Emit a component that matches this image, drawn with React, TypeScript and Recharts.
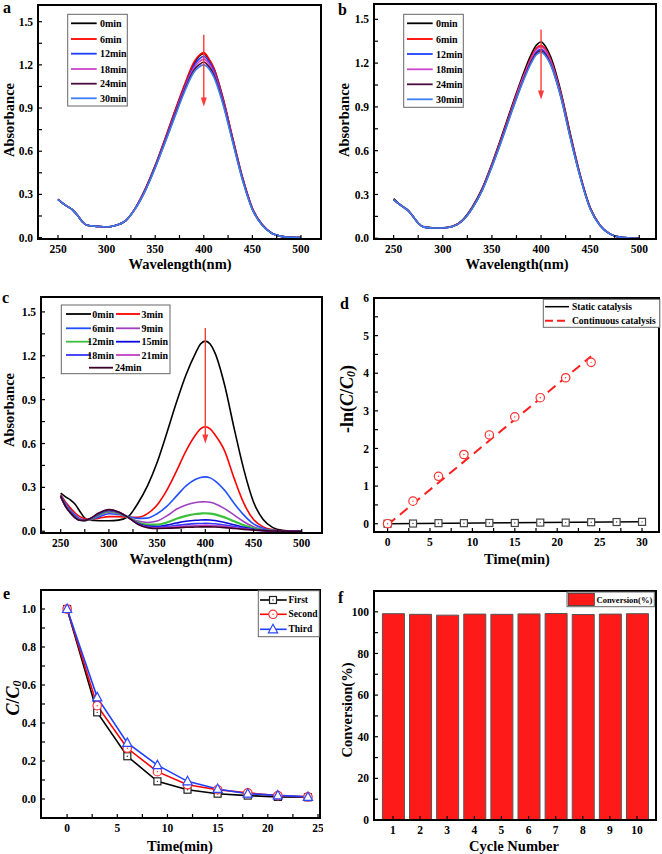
import React from 'react'
import {
  LineChart,
  Line,
  XAxis,
  YAxis,
  ReferenceLine,
  ScatterChart,
  Scatter,
  BarChart,
  Bar,
} from 'recharts'

const SERIF = "'Liberation Serif', 'Times New Roman', Times, serif"

// wavelength grid (nm) shared by the three UV-vis panels
const wavelengths = [250, 255, 260, 265, 270, 275, 280, 290, 300, 310, 320, 330, 340, 350, 360, 370, 380, 390, 395, 400, 405, 410, 420, 430, 440, 450, 460, 470, 480, 490, 500]

// panel a
const aLabels = ['0min', '6min', '12min', '18min', '24min', '30min']
const aColors = ['#000000', '#ff0000', '#1f3fff', '#cc44cc', '#4a0c3c', '#3a80f0']
const a0 = [0.265, 0.237, 0.215, 0.193, 0.155, 0.11, 0.085, 0.078, 0.073, 0.085, 0.12, 0.21, 0.34, 0.5, 0.68, 0.87, 1.05, 1.21, 1.26, 1.28, 1.24, 1.18, 0.96, 0.68, 0.41, 0.2, 0.09, 0.03, 0.008, 0.002, 0]
const a6 = [0.265, 0.237, 0.215, 0.193, 0.155, 0.11, 0.085, 0.078, 0.073, 0.085, 0.12, 0.21, 0.34, 0.5, 0.685, 0.875, 1.06, 1.22, 1.265, 1.285, 1.245, 1.185, 0.965, 0.685, 0.415, 0.205, 0.09, 0.03, 0.008, 0.002, 0]
const a12 = [0.265, 0.237, 0.215, 0.193, 0.155, 0.11, 0.085, 0.078, 0.073, 0.085, 0.12, 0.208, 0.335, 0.495, 0.675, 0.86, 1.04, 1.195, 1.24, 1.26, 1.225, 1.165, 0.95, 0.675, 0.41, 0.2, 0.09, 0.03, 0.008, 0.002, 0]
const a18 = [0.265, 0.237, 0.215, 0.193, 0.155, 0.11, 0.085, 0.078, 0.073, 0.085, 0.12, 0.207, 0.332, 0.49, 0.668, 0.85, 1.03, 1.18, 1.22, 1.24, 1.21, 1.15, 0.94, 0.67, 0.405, 0.198, 0.088, 0.03, 0.008, 0.002, 0]
const a24 = [0.265, 0.237, 0.215, 0.193, 0.155, 0.11, 0.085, 0.078, 0.073, 0.085, 0.12, 0.206, 0.33, 0.487, 0.662, 0.843, 1.02, 1.165, 1.2, 1.22, 1.19, 1.135, 0.93, 0.662, 0.4, 0.196, 0.087, 0.03, 0.008, 0.002, 0]
const a30 = [0.265, 0.237, 0.215, 0.193, 0.155, 0.11, 0.085, 0.078, 0.073, 0.085, 0.12, 0.205, 0.328, 0.483, 0.656, 0.835, 1.01, 1.15, 1.185, 1.2, 1.175, 1.12, 0.92, 0.655, 0.395, 0.194, 0.086, 0.03, 0.008, 0.002, 0]

// panel b
const bColors = ['#000000', '#ff0000', '#1f3fff', '#cc44cc', '#4a0c3c', '#3a80f0']
const b0 = [0.272, 0.24, 0.215, 0.19, 0.148, 0.105, 0.08, 0.072, 0.072, 0.082, 0.125, 0.215, 0.34, 0.51, 0.7, 0.9, 1.09, 1.26, 1.32, 1.345, 1.31, 1.24, 1.01, 0.71, 0.43, 0.21, 0.09, 0.03, 0.008, 0.002, 0]
const b6 = [0.265, 0.237, 0.213, 0.188, 0.147, 0.104, 0.078, 0.07, 0.07, 0.082, 0.122, 0.21, 0.335, 0.503, 0.69, 0.888, 1.075, 1.24, 1.3, 1.32, 1.29, 1.22, 0.995, 0.7, 0.425, 0.208, 0.09, 0.03, 0.008, 0.002, 0]
const b12 = [0.265, 0.237, 0.213, 0.188, 0.147, 0.104, 0.078, 0.07, 0.07, 0.08, 0.12, 0.207, 0.33, 0.495, 0.68, 0.875, 1.06, 1.22, 1.275, 1.295, 1.265, 1.2, 0.98, 0.69, 0.42, 0.205, 0.088, 0.03, 0.008, 0.002, 0]
const b18 = [0.265, 0.237, 0.213, 0.188, 0.147, 0.104, 0.078, 0.07, 0.07, 0.08, 0.121, 0.208, 0.332, 0.5, 0.685, 0.88, 1.07, 1.23, 1.29, 1.31, 1.28, 1.21, 0.99, 0.695, 0.422, 0.206, 0.089, 0.03, 0.008, 0.002, 0]
const b24 = [0.265, 0.237, 0.213, 0.188, 0.147, 0.104, 0.078, 0.07, 0.07, 0.08, 0.12, 0.206, 0.328, 0.492, 0.675, 0.868, 1.05, 1.21, 1.265, 1.285, 1.255, 1.19, 0.975, 0.685, 0.418, 0.204, 0.088, 0.03, 0.008, 0.002, 0]
const b30 = [0.265, 0.237, 0.213, 0.188, 0.147, 0.104, 0.078, 0.07, 0.07, 0.08, 0.12, 0.205, 0.325, 0.488, 0.67, 0.862, 1.045, 1.2, 1.255, 1.275, 1.245, 1.185, 0.97, 0.68, 0.415, 0.202, 0.087, 0.03, 0.008, 0.002, 0]

// panel c
const cColors = ['#000000', '#ff0000', '#1f4fff', '#a040c0', '#3cc03c', '#0a0adc', '#3535ff', '#c040c0', '#3a0028']
const c0 = [0.26, 0.235, 0.215, 0.185, 0.135, 0.09, 0.075, 0.072, 0.072, 0.076, 0.1, 0.19, 0.31, 0.47, 0.67, 0.88, 1.07, 1.22, 1.28, 1.3, 1.28, 1.22, 1.0, 0.7, 0.42, 0.2, 0.08, 0.025, 0.006, 0.001, 0]
const c3 = [0.25, 0.2, 0.16, 0.125, 0.1, 0.085, 0.08, 0.09, 0.1, 0.1, 0.095, 0.095, 0.12, 0.18, 0.28, 0.41, 0.55, 0.66, 0.7, 0.715, 0.7, 0.66, 0.55, 0.36, 0.19, 0.08, 0.03, 0.01, 0.003, 0.001, 0]
const c6 = [0.245, 0.19, 0.145, 0.11, 0.085, 0.076, 0.078, 0.1, 0.12, 0.115, 0.1, 0.088, 0.09, 0.12, 0.17, 0.24, 0.31, 0.355, 0.368, 0.372, 0.365, 0.345, 0.28, 0.19, 0.11, 0.05, 0.02, 0.006, 0.002, 0, 0]
const c9 = [0.24, 0.18, 0.135, 0.1, 0.08, 0.074, 0.078, 0.11, 0.13, 0.12, 0.095, 0.07, 0.06, 0.07, 0.105, 0.15, 0.18, 0.197, 0.2, 0.202, 0.198, 0.188, 0.155, 0.11, 0.065, 0.03, 0.012, 0.004, 0.001, 0, 0]
const c12 = [0.24, 0.175, 0.13, 0.095, 0.078, 0.074, 0.08, 0.115, 0.138, 0.125, 0.095, 0.06, 0.045, 0.045, 0.06, 0.085, 0.105, 0.118, 0.121, 0.123, 0.121, 0.115, 0.095, 0.068, 0.04, 0.02, 0.008, 0.003, 0.001, 0, 0]
const c15 = [0.24, 0.175, 0.13, 0.095, 0.077, 0.074, 0.082, 0.12, 0.142, 0.128, 0.095, 0.055, 0.035, 0.032, 0.042, 0.056, 0.068, 0.075, 0.077, 0.078, 0.077, 0.073, 0.06, 0.044, 0.027, 0.014, 0.006, 0.002, 0.001, 0, 0]
const c18 = [0.24, 0.172, 0.128, 0.094, 0.076, 0.074, 0.083, 0.122, 0.144, 0.13, 0.095, 0.052, 0.03, 0.026, 0.032, 0.04, 0.047, 0.052, 0.053, 0.054, 0.053, 0.051, 0.043, 0.032, 0.02, 0.011, 0.005, 0.002, 0.001, 0, 0]
const c21 = [0.24, 0.172, 0.127, 0.093, 0.076, 0.074, 0.084, 0.124, 0.146, 0.131, 0.095, 0.05, 0.027, 0.022, 0.025, 0.03, 0.035, 0.038, 0.039, 0.04, 0.039, 0.037, 0.032, 0.024, 0.016, 0.009, 0.004, 0.002, 0.001, 0, 0]
const c24 = [0.24, 0.17, 0.126, 0.092, 0.075, 0.074, 0.085, 0.126, 0.148, 0.132, 0.095, 0.048, 0.025, 0.019, 0.02, 0.023, 0.027, 0.029, 0.03, 0.03, 0.03, 0.029, 0.025, 0.019, 0.013, 0.008, 0.004, 0.002, 0.001, 0, 0]

// panel d
const staticTimes = [0, 3, 6, 9, 12, 15, 18, 21, 24, 27, 30]
const staticLn = [0, 0.005, 0.015, 0.015, 0.02, 0.02, 0.03, 0.03, 0.04, 0.045, 0.05]
const contTimes = [0, 3, 6, 9, 12, 15, 18, 21, 24]
const contLn = [0, 0.6, 1.26, 1.84, 2.36, 2.84, 3.35, 3.88, 4.29]
const staticFitT = [0, 30]
const staticFitV = [0, 0.05]
const contFitT = [0, 24]
const contFitV = [-0.03, 4.45]

// panel e
const eTimes = [0, 3, 6, 9, 12, 15, 18, 21, 24]
const firstRun = [1.0, 0.456, 0.225, 0.093, 0.049, 0.028, 0.018, 0.011, 0.009]
const secondRun = [1.0, 0.491, 0.267, 0.144, 0.075, 0.049, 0.032, 0.018, 0.011]
const thirdRun = [1.0, 0.535, 0.295, 0.178, 0.093, 0.053, 0.028, 0.019, 0.011]

// panel f
const cycles = [1, 2, 3, 4, 5, 6, 7, 8, 9, 10]
const conversion = [99.1, 98.8, 98.4, 98.9, 98.8, 99.0, 99.2, 98.7, 98.9, 99.1]

// tick lists
const wlTicks = [250, 275, 300, 325, 350, 375, 400, 425, 450, 475, 500]
const absTicks = [0, 0.15, 0.3, 0.45, 0.6, 0.75, 0.9, 1.05, 1.2, 1.35, 1.5]

// plot frames in page pixels
const FA = { L: 38, T: 5, R: 321, B: 239 }
const FB = { L: 374, T: 4, R: 656, B: 239 }
const FC = { L: 41, T: 297, R: 322, B: 533 }
const FD = { L: 374, T: 298, R: 659, B: 532 }
const FE = { L: 41, T: 590, R: 320, B: 818 }
const FF = { L: 374, T: 591, R: 656, B: 820 }

const PAD = { l: 40, t: 10, r: 3, b: 30 }
const tickStyle = { fontSize: 11.5, fill: '#000', fontWeight: 700, fontFamily: SERIF }
const tickLine = { stroke: '#000', strokeWidth: 1.2 }

function box(f: any) {
  return {
    left: f.L - PAD.l,
    top: f.T - PAD.t,
    width: f.R - f.L + PAD.l + PAD.r,
    height: f.B - f.T + PAD.t + PAD.b,
  }
}

const margin = { top: PAD.t, right: PAD.r, left: 0, bottom: 0 }

const xAxisProps = {
  type: 'number' as const,
  allowDataOverflow: true,
  interval: 0 as const,
  height: PAD.b,
  axisLine: false,
  tickLine,
  tickSize: -4,
  tickMargin: 10,
  tick: tickStyle,
}
const yAxisProps = {
  type: 'number' as const,
  allowDataOverflow: true,
  interval: 0 as const,
  width: PAD.l,
  axisLine: false,
  tickLine,
  tickSize: -4,
  tickMargin: 9,
  tick: tickStyle,
}

function buildRows(series: number[][]) {
  return wavelengths.map((w, i) => {
    const r: any = { w }
    series.forEach((s, k) => (r['s' + k] = s[i]))
    return r
  })
}

const Arrow = (p: any) => {
  const { x1, y1, x2, y2 } = p
  return (
    <g>
      <line x1={x1} y1={y1} x2={x2} y2={y2 - 6} stroke="#ff3838" strokeWidth={1.4} />
      <polygon points={`${x2 - 3},${y2 - 9} ${x2 + 3},${y2 - 9} ${x2},${y2}`} fill="#ff3838" />
    </g>
  )
}

function Spectra({ f, xd, yd, series, colors, arrow }: any) {
  const b = box(f)
  const rows = buildRows(series)
  return (
    <div style={{ position: 'absolute', left: b.left, top: b.top }}>
      <LineChart width={b.width} height={b.height} data={rows} margin={margin}>
        <XAxis {...xAxisProps} dataKey="w" domain={xd} ticks={wlTicks} tickFormatter={(v: number) => (v % 50 === 0 ? String(v) : '')} />
        <YAxis {...yAxisProps} domain={yd} ticks={absTicks} tickFormatter={(v: number, i: number) => (i % 2 === 0 ? v.toFixed(1) : '')} />
        {colors.map((c: string, k: number) => (
          <Line key={k} type="monotone" dataKey={'s' + k} stroke={c} strokeWidth={k === 4 && colors.length > 6 ? 2.2 : 1.6} dot={false} isAnimationActive={false} />
        ))}
        <ReferenceLine segment={arrow} shape={Arrow} ifOverflow="visible" />
      </LineChart>
    </div>
  )
}

const Sq = ({ cx, cy, c }: any) => (
  <g>
    <rect x={cx - 3.5} y={cy - 3.5} width={7} height={7} fill="#fff" stroke={c} strokeWidth={1.2} />
    <circle cx={cx} cy={cy} r={0.7} fill={c} />
  </g>
)
const Circ = ({ cx, cy, c }: any) => (
  <g>
    <circle cx={cx} cy={cy} r={4.2} fill="#fff" stroke={c} strokeWidth={1.2} />
    <circle cx={cx} cy={cy} r={0.7} fill={c} />
  </g>
)
const Tri = ({ cx, cy, c }: any) => (
  <polygon points={`${cx},${cy - 5} ${cx - 4.6},${cy + 3.5} ${cx + 4.6},${cy + 3.5}`} fill="#fff" stroke={c} strokeWidth={1.2} />
)

function PanelD() {
  const b = box(FD)
  const sPts = staticTimes.map((t, i) => ({ t, v: staticLn[i] }))
  const cPts = contTimes.map((t, i) => ({ t, v: contLn[i] }))
  const sFit = staticFitT.map((t, i) => ({ t, v: staticFitV[i] }))
  const cFit = contFitT.map((t, i) => ({ t, v: contFitV[i] }))
  return (
    <div style={{ position: 'absolute', left: b.left, top: b.top }}>
      <ScatterChart width={b.width} height={b.height} margin={margin}>
        <XAxis {...xAxisProps} dataKey="t" domain={[-1.6, 32]} ticks={[0, 2.5, 5, 7.5, 10, 12.5, 15, 17.5, 20, 22.5, 25, 27.5, 30]} tickFormatter={(v: number) => (v % 5 === 0 ? String(v) : '')} />
        <YAxis {...yAxisProps} dataKey="v" domain={[-0.22, 6]} ticks={[0, 0.5, 1, 1.5, 2, 2.5, 3, 3.5, 4, 4.5, 5, 5.5, 6]} tickFormatter={(v: number) => (v % 1 === 0 ? String(v) : '')} />
        <Scatter data={sFit} line={{ stroke: '#000', strokeWidth: 1.5 }} shape={() => <g />} isAnimationActive={false} />
        <Scatter data={cFit} line={{ stroke: '#ff1e1e', strokeWidth: 2, strokeDasharray: '10 6' }} shape={() => <g />} isAnimationActive={false} />
        <Scatter data={sPts} shape={(p: any) => <Sq cx={p.cx} cy={p.cy} c="#444" />} isAnimationActive={false} />
        <Scatter data={cPts} shape={(p: any) => <Circ cx={p.cx} cy={p.cy} c="#ff3030" />} isAnimationActive={false} />
      </ScatterChart>
    </div>
  )
}

function PanelE() {
  const b = box(FE)
  const rows = eTimes.map((t, i) => ({ t, first: firstRun[i], second: secondRun[i], third: thirdRun[i] }))
  return (
    <div style={{ position: 'absolute', left: b.left, top: b.top }}>
      <LineChart width={b.width} height={b.height} data={rows} margin={margin}>
        <XAxis {...xAxisProps} dataKey="t" domain={[-2.6, 25.2]} ticks={[0, 2.5, 5, 7.5, 10, 12.5, 15, 17.5, 20, 22.5, 25]} tickFormatter={(v: number) => (v % 5 === 0 ? String(v) : '')} />
        <YAxis {...yAxisProps} domain={[-0.1, 1.1]} ticks={[0, 0.1, 0.2, 0.3, 0.4, 0.5, 0.6, 0.7, 0.8, 0.9, 1.0]} tickFormatter={(v: number, i: number) => (i % 2 === 0 ? v.toFixed(1) : '')} />
        <Line type="linear" dataKey="first" stroke="#000" strokeWidth={1.6} isAnimationActive={false} dot={(p: any) => <Sq key={'f' + p.index} cx={p.cx} cy={p.cy} c="#222" />} />
        <Line type="linear" dataKey="second" stroke="#ff0000" strokeWidth={1.6} isAnimationActive={false} dot={(p: any) => <Circ key={'s' + p.index} cx={p.cx} cy={p.cy} c="#ff3030" />} />
        <Line type="linear" dataKey="third" stroke="#1f3fff" strokeWidth={1.6} isAnimationActive={false} dot={(p: any) => <Tri key={'t' + p.index} cx={p.cx} cy={p.cy} c="#2a46ff" />} />
      </LineChart>
    </div>
  )
}

function PanelF() {
  const b = box(FF)
  const rows = cycles.map((c, i) => ({ cycle: c, conv: conversion[i] }))
  return (
    <div style={{ position: 'absolute', left: b.left, top: b.top }}>
      <BarChart width={b.width} height={b.height} data={rows} margin={margin} barSize={22}>
        <XAxis {...xAxisProps} dataKey="cycle" domain={[0.3, 10.7]} ticks={cycles} />
        <YAxis {...yAxisProps} domain={[0, 110]} ticks={[0, 10, 20, 30, 40, 50, 60, 70, 80, 90, 100]} tickFormatter={(v: number, i: number) => (i % 2 === 0 ? String(v) : '')} />
        <Bar dataKey="conv" fill="#ff1a1a" stroke="#555" strokeWidth={1} isAnimationActive={false} />
      </BarChart>
    </div>
  )
}

function LegendLines({ x1, x2, tx, rows, labels, colors, size = 10, anchor = 'start' }: any) {
  return (
    <g>
      {rows.map((y: number, i: number) => (
        <g key={i}>
          <line x1={x1} x2={x2} y1={y} y2={y} stroke={colors[i]} strokeWidth={1.8} />
          <text x={tx} y={y} fontSize={size} dominantBaseline="central" textAnchor={anchor}>
            {labels[i]}
          </text>
        </g>
      ))}
    </g>
  )
}

function Overlay() {
  const frames = [FA, FB, FC, FD, FE, FF]
  const yTitle = (x: number, y: number, content: any, size = 14.5) => (
    <text transform={`translate(${x},${y}) rotate(-90)`} textAnchor="middle" dominantBaseline="central" fontSize={size}>
      {content}
    </text>
  )
  const xTitle = (x: number, y: number, s: string) => (
    <text x={x} y={y} textAnchor="middle" dominantBaseline="central" fontSize={14.5}>
      {s}
    </text>
  )
  const cRows = [314, 328.3, 341.7, 355, 367.7]
  return (
    <svg width={662} height={854} style={{ position: 'absolute', left: 0, top: 0, pointerEvents: 'none' }} fontFamily={SERIF} fontWeight="bold" fill="#000">
      {frames.map((f, i) => (
        <rect key={i} x={f.L} y={f.T} width={f.R - f.L} height={f.B - f.T} fill="none" stroke="#000" strokeWidth={2} />
      ))}

      {/* panel letters */}
      <text x={3} y={13} fontSize={16}>a</text>
      <text x={338} y={15} fontSize={16}>b</text>
      <text x={2} y={303} fontSize={16}>c</text>
      <text x={340} y={309} fontSize={16}>d</text>
      <text x={3} y={599} fontSize={16}>e</text>
      <text x={338} y={603} fontSize={16}>f</text>

      {/* axis titles */}
      {xTitle(180, 264, 'Wavelength(nm)')}
      {xTitle(517, 264, 'Wavelength(nm)')}
      {xTitle(181, 559, 'Wavelength(nm)')}
      {xTitle(517, 559, 'Time(min)')}
      {xTitle(180, 846, 'Time(min)')}
      {xTitle(514, 846, 'Cycle Number')}
      {yTitle(9, 120, 'Absorbance')}
      {yTitle(344, 120, 'Absorbance')}
      {yTitle(9, 410, 'Absorbance')}
      {yTitle(347, 399, (
        <>
          -ln(<tspan fontStyle="italic">C</tspan>/<tspan fontStyle="italic">C</tspan>
          <tspan fontStyle="italic" fontSize={12} dy={4}>0</tspan>
          <tspan dy={-4}>)</tspan>
        </>
      ), 18)}
      {yTitle(13, 698, (
        <>
          <tspan fontStyle="italic">C</tspan>/<tspan fontStyle="italic">C</tspan>
          <tspan fontStyle="italic" fontSize={12} dy={4}>0</tspan>
        </>
      ), 18)}
      {yTitle(347, 710, 'Conversion(%)')}

      {/* legend a */}
      <rect x={67.7} y={14.3} width={59.6} height={91.7} fill="#fff" stroke="#666" strokeWidth={1} />
      <LegendLines x1={71} x2={96.7} tx={100} rows={[23.3, 39, 53.7, 69, 83.7, 98.3]} labels={aLabels} colors={aColors} />

      {/* legend b */}
      <rect x={403.7} y={14.3} width={59.6} height={93} fill="#fff" stroke="#666" strokeWidth={1} />
      <LegendLines x1={407} x2={432.7} tx={436} rows={[23.3, 39, 54, 69.3, 84.3, 99.3]} labels={aLabels} colors={bColors} />

      {/* legend c */}
      <rect x={61.3} y={305} width={108.7} height={68.7} fill="#fff" stroke="#666" strokeWidth={1} />
      <LegendLines x1={66} x2={91} tx={114} anchor="end" rows={cRows.slice(0, 4)} labels={['0min', '6min', '12min', '18min']} colors={[cColors[0], cColors[2], cColors[4], cColors[6]]} />
      <LegendLines x1={116} x2={140} tx={141.5} rows={cRows.slice(0, 4)} labels={['3min', '9min', '15min', '21min']} colors={[cColors[1], cColors[3], cColors[5], cColors[7]]} />
      <LegendLines x1={89} x2={113} tx={115} rows={[cRows[4]]} labels={['24min']} colors={[cColors[8]]} />

      {/* legend d */}
      <rect x={543.3} y={299.3} width={116.5} height={28} fill="#fff" stroke="#666" strokeWidth={1} />
      <line x1={545} x2={569} y1={306.7} y2={306.7} stroke="#000" strokeWidth={1.5} />
      <text x={572} y={306.7} fontSize={9.5} dominantBaseline="central">Static catalysis</text>
      <line x1={545} x2={569} y1={320.7} y2={320.7} stroke="#ff1e1e" strokeWidth={2} strokeDasharray="8 4" />
      <text x={572} y={320.7} fontSize={9.5} dominantBaseline="central">Continuous catalysis</text>

      {/* legend e */}
      <rect x={258.3} y={590.7} width={61} height={46} fill="#fff" stroke="#666" strokeWidth={1} />
      <line x1={260} x2={286.7} y1={600} y2={600} stroke="#000" strokeWidth={1.6} />
      <Sq cx={273} cy={600} c="#222" />
      <text x={288.5} y={600} fontSize={9.5} dominantBaseline="central">First</text>
      <line x1={260} x2={286.7} y1={614.3} y2={614.3} stroke="#ff0000" strokeWidth={1.6} />
      <Circ cx={273} cy={614.3} c="#ff3030" />
      <text x={288.5} y={614.3} fontSize={9.5} dominantBaseline="central">Second</text>
      <line x1={260} x2={286.7} y1={629.3} y2={629.3} stroke="#1f3fff" strokeWidth={1.6} />
      <Tri cx={273} cy={629.3} c="#2a46ff" />
      <text x={288.5} y={629.3} fontSize={9.5} dominantBaseline="central">Third</text>

      {/* legend f */}
      <rect x={567} y={592} width={87.3} height={14.7} fill="#fff" stroke="#666" strokeWidth={1} />
      <rect x={568.3} y={593.3} width={26} height={12.2} fill="#ff1a1a" stroke="#333" strokeWidth={0.8} />
      <text x={596.5} y={599.7} fontSize={8.5} dominantBaseline="central">Conversion(%)</text>
    </svg>
  )
}

export default function App() {
  return (
    <div style={{ position: 'absolute', left: 0, top: 0, width: 662, height: 854, background: '#fff', overflow: 'hidden' }}>
      <Spectra f={FA} xd={[229.4, 520.6]} yd={[-0.01, 1.616]} series={[a0, a6, a12, a18, a24, a30]} colors={aColors} arrow={[{ x: 400, y: 1.41 }, { x: 400, y: 0.91 }]} />
      <Spectra f={FB} xd={[230, 517]} yd={[-0.005, 1.605]} series={[b0, b6, b12, b18, b24, b30]} colors={bColors} arrow={[{ x: 400, y: 1.43 }, { x: 400, y: 0.95 }]} />
      <Spectra f={FC} xd={[229.6, 521]} yd={[-0.012, 1.602]} series={[c0, c3, c6, c9, c12, c15, c18, c21, c24]} colors={cColors} arrow={[{ x: 400, y: 1.39 }, { x: 400, y: 0.6 }]} />
      <PanelD />
      <PanelE />
      <PanelF />
      <Overlay />
    </div>
  )
}
